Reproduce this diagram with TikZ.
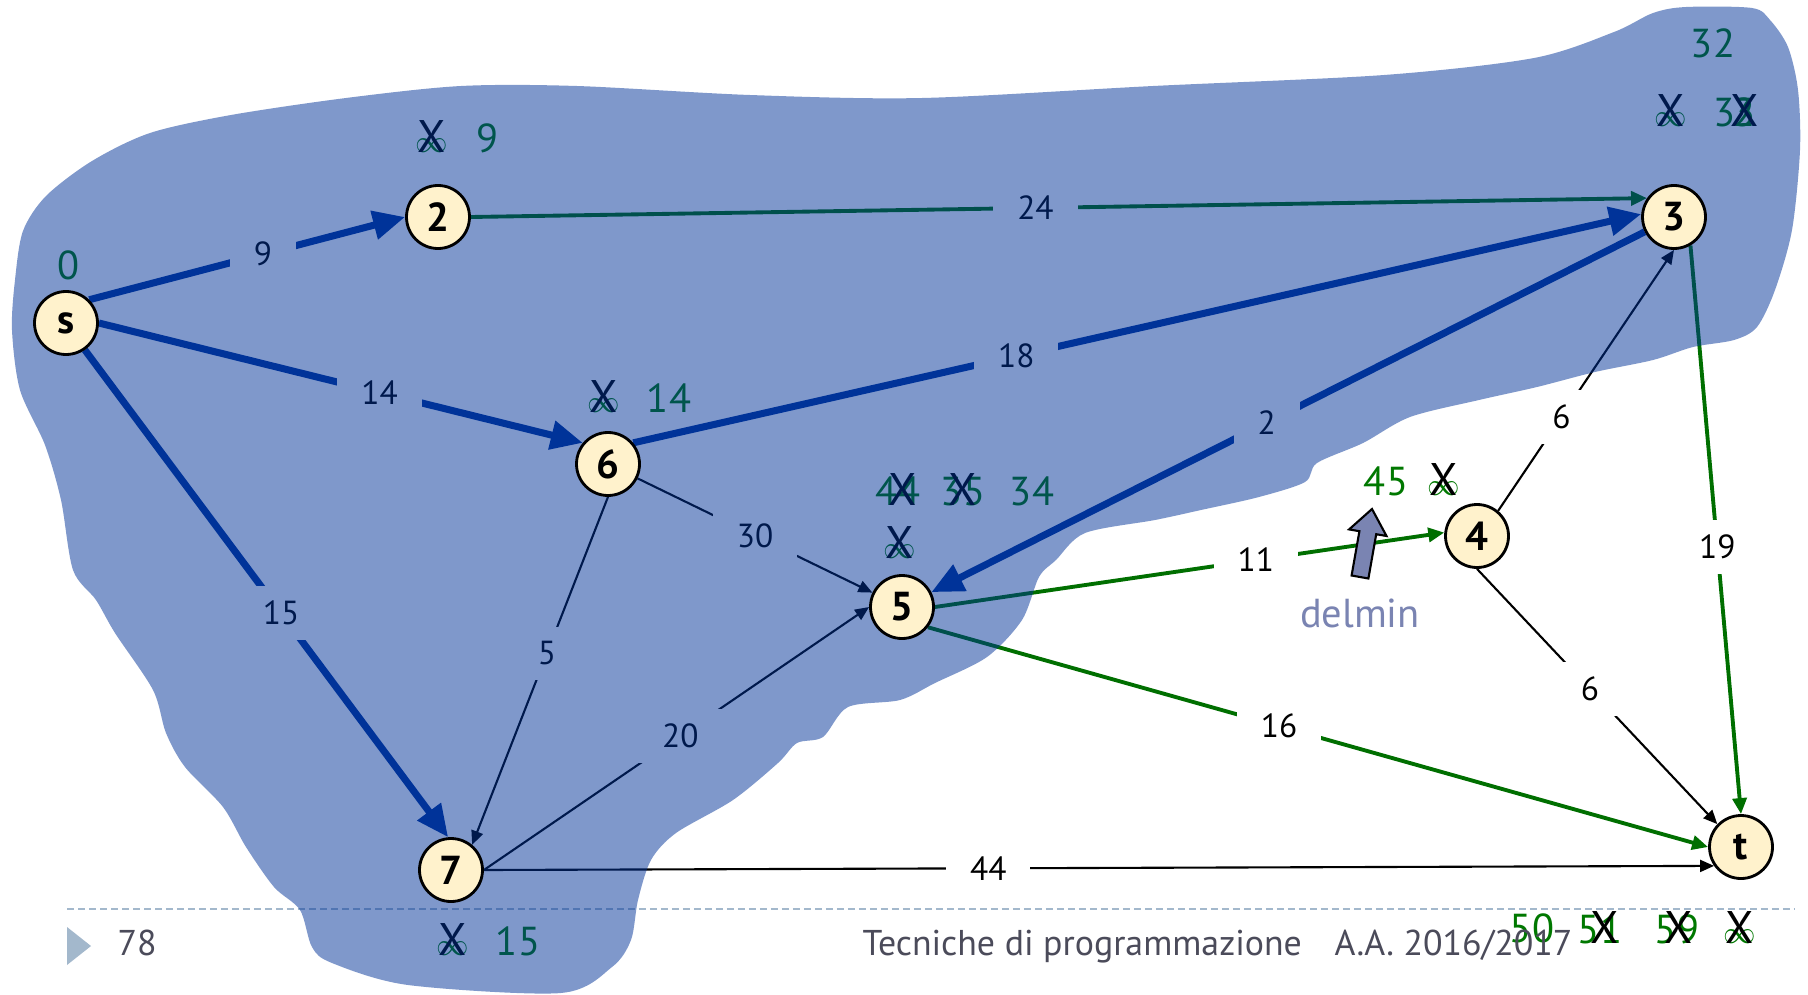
\documentclass[tikz,border=0pt]{standalone}
\usepackage{fontspec}
\setmainfont{PT Sans}
\usetikzlibrary{arrows.meta}
\definecolor{cTree}{HTML}{003399}
\definecolor{cGreen}{HTML}{006F00}
\definecolor{cLab}{HTML}{007800}
\definecolor{cNode}{HTML}{FFF2CC}
\definecolor{cFoot}{HTML}{4B4B5A}
\definecolor{cRule}{HTML}{A3B8CC}
\definecolor{cDel}{HTML}{7A84B2}
\pgfdeclarelayer{under}
\pgfdeclarelayer{veil}
\pgfsetlayers{under,veil,main}
\tikzset{
  vtx/.style={circle,draw=black,line width=0.8pt,fill=cNode,minimum size=6.3mm,inner sep=0pt,font=\fontsize{11.5}{11}\selectfont\bfseries},
  tree/.style={draw=cTree,line width=2pt,-{Triangle[length=3.2mm,width=2.8mm]}},
  gedge/.style={draw=cGreen,line width=1.1pt,-{Triangle[length=1.6mm,width=1.4mm]}},
  kedge/.style={draw=black,line width=0.6pt,-{Triangle[length=1.4mm,width=1.2mm]}},
  wlbl/.style={fill=white,inner xsep=2.4mm,inner ysep=1.5mm,font=\fontsize{9.5}{9}\selectfont},
  dist/.style={text=cLab,anchor=base,inner sep=0pt,font=\fontsize{11.5}{11}\selectfont},
  cross/.style={anchor=base,inner sep=0pt,font=\fontsize{13}{13}\selectfont},
  inf/.style={text=cLab,anchor=base,inner sep=0pt,font=\fontsize{9.5}{10}\selectfont},
  foot/.style={text=cFoot,anchor=base west,inner sep=0pt,font=\fontsize{10.2}{11}\selectfont}}

\begin{document}
\begin{tikzpicture}[x=0.1mm,y=-0.1mm]
\useasboundingbox (0,0) rectangle (1808,995);
% vertices
\foreach \n/\x/\y/\l in {s/66/323/s, n2/438/217/2, n3/1674/217/3, n4/1477/536/4,
  n5/902/607/5, n6/608/464/6, n7/451/870/7, t/1741/847/t}
  \node[vtx] (\n) at (\x,\y) {\l};

\begin{pgfonlayer}{under}
\fill[white] (0,0) rectangle (1808,995);
% edges with weights
\foreach \st/\a/\b/\p/\w in {tree/s.45/n2.west/.55/9, tree/s.east/n6.140/.58/14,
  tree/s.-55/n7.95/.54/15, tree/n6.40/n3.175/.38/18, tree/n3/n5/.53/2,
  gedge/n2.east/n3.145/.48/24, gedge/n5.east/n4.174/.63/11,
  gedge/n5.-38/t.west/.45/16, gedge/n3.-60/t.north/.53/19,
  kedge/n6/n5/.5/30, kedge/n6.south/n7.50/.45/5, kedge/n7.east/n5.west/.51/20,
  kedge/n7.east/t.215/.41/44, kedge/n4.50/n3.south/.36/6, kedge/n4.south/t.136/.47/6}
  \draw[\st] (\a) -- (\b) node[wlbl,pos=\p] {\w};

% distance labels
\foreach \n/\x/\y/\v in {d0/69/279/0, d9/488/152/9, d14/669/412/14, d32/1713/58/32,
  d3a/1724/126/3, d3b/1744/126/2, d3c/1744/126/3, d44/898/505/44, d35/963/505/35,
  d34/1032/505/34, d45/1386/495/45, d15/518/955/15, d50/1532/942/50,
  d51/1600/943/51, d59/1677/943/59}
  \node[dist] (\n) at (\x,\y) {\v};
\foreach \n/\x/\y in {i2/432/152, i6/604/412, i3/1671/126, i5/900/558,
  i4/1444/495, i7/453/955, it/1740/943}
  \node[inf] (\n) at (\x,\y) {$\infty$};
\foreach \n/\x/\y in {x2/432/152, x6/604/412, x3/1671/126, x3b/1745/126, x44/903/505,
  x35/963/505, x5/900/558, x4/1444/495, x7/453/955, x51/1605/943, x59/1679/943, xt/1740/943}
  \node[cross] (\n) at (\x,\y) {X};

% footer
\draw[cRule,line width=0.5pt,dash pattern=on 0.7mm off 0.4mm] (67,909) -- (1795,909);
\fill[cRule] (67,927) -- (91,946) -- (67,965) -- cycle;
\node[foot] (page) at (117,955) {78};
\node[foot] (course) at (862,955) {Tecniche di programmazione};
\node[foot] (year) at (1334,955) {A.A. 2016/2017};
\end{pgfonlayer}

% the cut S
\begin{pgfonlayer}{veil}
\fill[cTree,opacity=0.5] plot[smooth cycle,tension=0.5] coordinates {
  (23,231) (46,196) (92,161) (150,133) (231,115) (346,98) (461,86) (577,86)
  (750,95) (922,98) (1153,86) (1384,75) (1534,58) (1614,32) (1653,13) (1686,7)
  (1752,8) (1770,20) (1788,47) (1798,90) (1800,150) (1792,230) (1775,290)
  (1757,327) (1734,340) (1693,347) (1653,360) (1595,372) (1537,387) (1479,400)
  (1410,417) (1363,443) (1317,463) (1305,482) (1259,497) (1201,510) (1155,520)
  (1085,533) (1056,560) (1039,577) (1022,620) (987,657) (935,683) (900,700)
  (848,707) (823,737) (797,743) (778,763) (733,800) (676,833) (651,860)
  (638,900) (631,940) (612,967) (561,993) (408,985) (332,963) (312,947)
  (300,910) (274,887) (246,847) (223,807) (185,767) (166,733) (153,690)
  (115,633) (96,600) (73,570) (61,500) (45,445) (20,390) (12,330) (15,280)};
\end{pgfonlayer}

% delmin
\draw[fill=cDel,line width=0.6pt] (1351.6,575.5) -- (1359.4,531.2) -- (1349.1,529.4)
  -- (1372,509) -- (1386.5,536) -- (1376.2,534.2) -- (1368.4,578.5) -- cycle;
\node[text=cDel,anchor=base,font=\fontsize{11.5}{11}\selectfont] (delmin) at (1360,627) {delmin};
\end{tikzpicture}
\end{document}
